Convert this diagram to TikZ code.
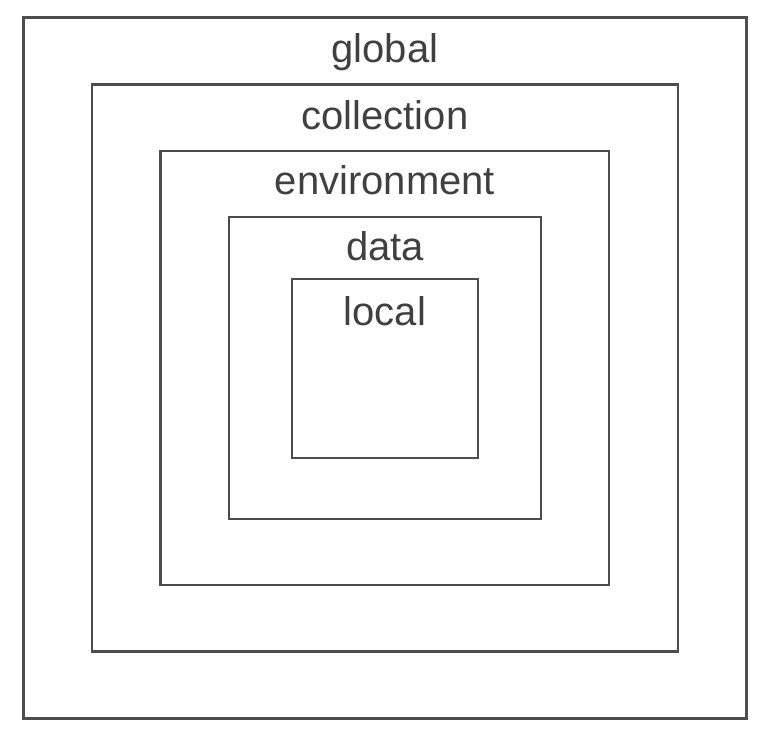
\documentclass[tikz,border=0pt]{standalone}
\usepackage{fontspec}
\setmainfont{Liberation Sans}
\definecolor{linegray}{HTML}{4D4D4D}
\definecolor{textgray}{HTML}{404040}
\begin{document}
\begin{tikzpicture}[x=0.75pt,y=-0.75pt,
  scopebox/.style={draw=linegray,line width=1.6pt},
  scopelabel/.style={anchor=base,inner sep=0pt,text=textgray,font=\fontsize{30pt}{36pt}\selectfont}]
\useasboundingbox (0,0) rectangle (765,735);
\fill[white] (0,0) rectangle (765,735);
\draw[scopebox] (23.5,17.5) rectangle (746.5,718.5);
\draw[scopebox] (92,84.5) rectangle (678,651.5);
\draw[scopebox] (160.5,151) rectangle (609,585);
\draw[scopebox] (229,217) rectangle (541,519);
\draw[scopebox] (292,279) rectangle (478,458);
\node[scopelabel] (global) at (385,63) {global};
\node[scopelabel] (collection) at (385,130) {collection};
\node[scopelabel] (environment) at (385,195) {environment};
\node[scopelabel] (data) at (385,260) {data};
\node[scopelabel] (local) at (385,325) {local};
\end{tikzpicture}
\end{document}
